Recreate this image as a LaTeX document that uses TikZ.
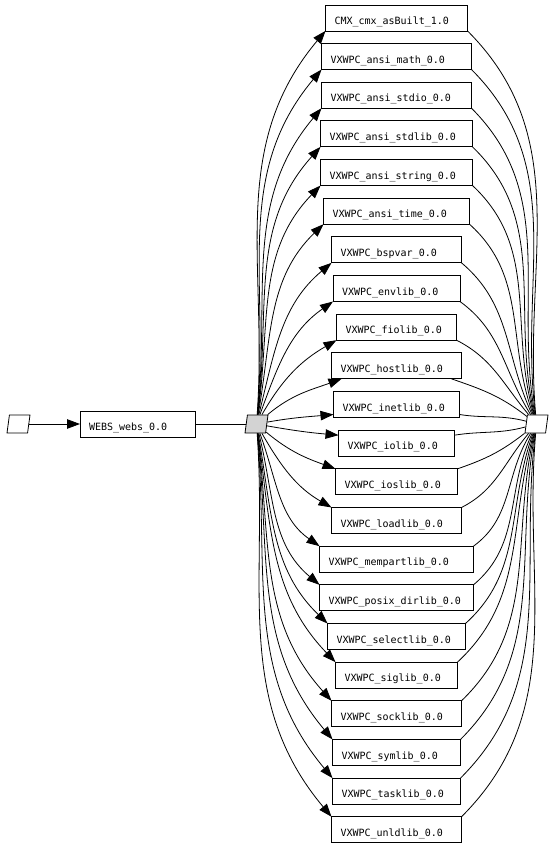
\documentclass[tikz,border=0pt]{standalone}
\usepackage{fontspec}
\setmonofont{DejaVu Sans Mono}
\usetikzlibrary{arrows.meta,positioning,shapes.geometric}
\definecolor{hubgray}{RGB}{211,211,211}

\begin{document}
\begin{tikzpicture}[x=1pt,y=1pt,>={Triangle[length=13pt,width=9.5pt]},node distance=12.66pt,
  lib/.style={draw,line width=0.8pt,outer sep=0pt,minimum height=26pt,inner xsep=9pt,inner ysep=0pt,text height=13.2pt,text depth=0pt,align=left,font=\ttfamily\fontsize{10}{12}\selectfont},
  port/.style={draw,line width=0.8pt,trapezium,trapezium left angle=75,trapezium right angle=105,trapezium stretches=true,minimum width=23pt,minimum height=18pt,inner xsep=2pt,inner ysep=1pt},
  edge/.style={line width=0.8pt}]
\useasboundingbox (0,0) rectangle (554,-846);

\node[port] (pin) at (18.5,-424) {};
\node[lib,text width=97pt] (webs) at (137.5,-424) {WEBS\_webs\_0.0};
\node[port,fill=hubgray] (hub) at (256.5,-424) {};
\node[port] (sink) at (536.5,-424) {};

\node[lib,text width=124pt] (cmx) at (396.5,-17.9) {CMX\_cmx\_asBuilt\_1.0};
\node[lib,text width=132pt,below=of cmx] (math) {VXWPC\_ansi\_math\_0.0};
\node[lib,text width=132pt,below=of math] (stdio) {VXWPC\_ansi\_stdio\_0.0};
\node[lib,text width=134pt,below=of stdio] (stdlib) {VXWPC\_ansi\_stdlib\_0.0};
\node[lib,text width=134pt,below=of stdlib] (string) {VXWPC\_ansi\_string\_0.0};
\node[lib,text width=128pt,below=of string] (time) {VXWPC\_ansi\_time\_0.0};
\node[lib,text width=112pt,below=of time] (bspvar) {VXWPC\_bspvar\_0.0};
\node[lib,text width=109pt,below=of bspvar] (envlib) {VXWPC\_envlib\_0.0};
\node[lib,text width=102pt,below=of envlib] (fiolib) {VXWPC\_fiolib\_0.0};
\node[lib,text width=112pt,below=of fiolib] (hostlib) {VXWPC\_hostlib\_0.0};
\node[lib,text width=108pt,below=of hostlib] (inetlib) {VXWPC\_inetlib\_0.0};
\node[lib,text width=98pt,below=of inetlib] (iolib) {VXWPC\_iolib\_0.0};
\node[lib,text width=104pt,below=of iolib] (ioslib) {VXWPC\_ioslib\_0.0};
\node[lib,text width=112pt,below=of ioslib] (loadlib) {VXWPC\_loadlib\_0.0};
\node[lib,text width=136pt,below=of loadlib] (mempart) {VXWPC\_mempartlib\_0.0};
\node[lib,text width=136pt,below=of mempart] (posixdir) {VXWPC\_posix\_dirlib\_0.0};
\node[lib,text width=120pt,below=of posixdir] (select) {VXWPC\_selectlib\_0.0};
\node[lib,text width=104pt,below=of select] (siglib) {VXWPC\_siglib\_0.0};
\node[lib,text width=112pt,below=of siglib] (socklib) {VXWPC\_socklib\_0.0};
\node[lib,text width=110pt,below=of socklib] (symlib) {VXWPC\_symlib\_0.0};
\node[lib,text width=110pt,below=of symlib] (tasklib) {VXWPC\_tasklib\_0.0};
\node[lib,text width=112pt,below=of tasklib] (unldlib) {VXWPC\_unldlib\_0.0};

\draw[edge,->] (pin) -- (webs);
\draw[edge] (webs) -- (hub);

% upper fan
\foreach \b/\o/\i/\p/\q in {cmx/86/230/-45/95, math/85/230/-45/97, stdio/84/230/-45/100, stdlib/83/228/-44/103, string/82/226/-43/106, time/80/224/-42/110, bspvar/76/220/-40/115, envlib/70/215/-36/122, fiolib/60/210/-27/130}{
  \draw[edge,->] (hub) to[out=\o,in=\i] (\b.south west);
  \draw[edge] (\b.south east) to[out=\p,in=\q] (sink);
}
% lower fan
\foreach \b/\o/\i/\p/\q in {ioslib/-40/160/19/218, loadlib/-60/150/27/230, mempart/-70/145/36/238, posixdir/-76/140/40/245, select/-80/136/42/250, siglib/-82/134/43/254, socklib/-83/132/44/257, symlib/-84/130/45/260, tasklib/-85/130/45/263, unldlib/-86/130/45/265}{
  \draw[edge,->] (hub) to[out=\o,in=\i] (\b.north west);
  \draw[edge] (\b.north east) to[out=\p,in=\q] (sink);
}
% middle rows
\draw[edge,->] (hub) to[out=40,in=200] ([xshift=10pt]hostlib.south west);
\draw[edge] ([xshift=-10pt]hostlib.south east) to[out=-19,in=142] (sink);
\draw[edge,->] (hub) to[out=10,in=185] ([yshift=-10pt]inetlib.west);
\draw[edge] ([yshift=-10pt]inetlib.east) to[out=-9,in=165] (sink);
\draw[edge,->] (hub) to[out=-10,in=175] ([yshift=8pt]iolib.west);
\draw[edge] ([yshift=8pt]iolib.east) to[out=9,in=195] (sink);
\end{tikzpicture}
\end{document}
